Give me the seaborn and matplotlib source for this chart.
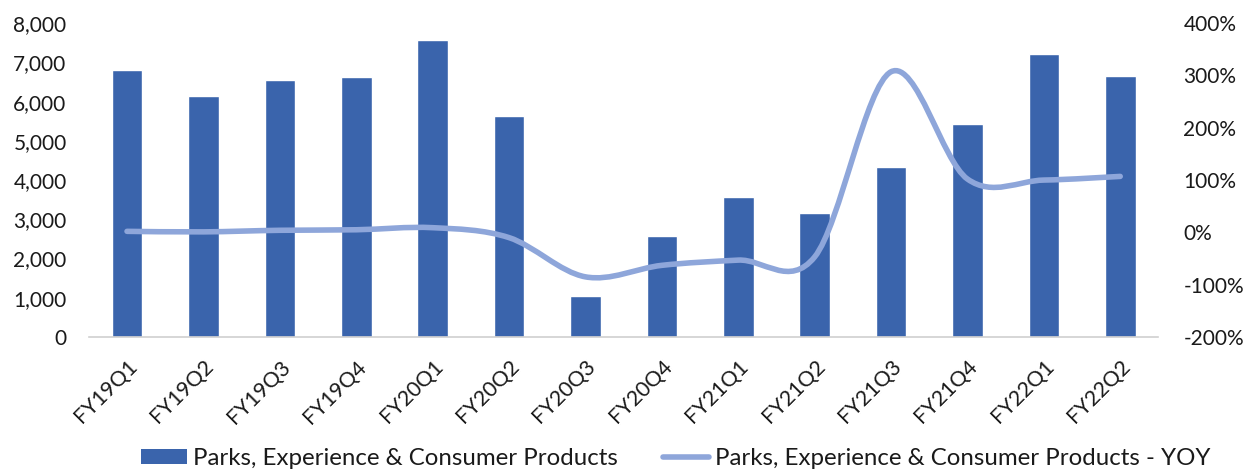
import numpy as np
import matplotlib
matplotlib.use("Agg")
import matplotlib.pyplot as plt
import seaborn as sns
import pandas as pd
from matplotlib.path import Path
from matplotlib.patches import PathPatch, Patch
from matplotlib.lines import Line2D
from matplotlib.ticker import FuncFormatter, MultipleLocator

# Quarterly segment revenue (USD mn) and year-over-year growth (%)
quarters = ["FY19Q1", "FY19Q2", "FY19Q3", "FY19Q4", "FY20Q1", "FY20Q2", "FY20Q3",
            "FY20Q4", "FY21Q1", "FY21Q2", "FY21Q3", "FY21Q4", "FY22Q1", "FY22Q2"]
revenue = [6800, 6150, 6560, 6630, 7560, 5640, 1045, 2570, 3560, 3170, 4330, 5420, 7220, 6640]
yoy_pct = [2, 1, 4, 5, 9, -10, -85, -63, -53, -47, 307, 102, 100, 107]

bar_label = "Parks, Experience & Consumer Products"
line_label = "Parks, Experience & Consumer Products - YOY"

bar_color = "#3A64AC"
line_color = "#8EA6DA"
text_color = "#1a1a1a"

sns.set_theme(style="white")
plt.rcParams["font.family"] = ["Lato", "DejaVu Sans"]

fig = plt.figure(figsize=(12.51, 4.72), dpi=100)
ax = fig.add_axes([0.071, 0.286, 0.855, 0.665])

df = pd.DataFrame({"quarter": quarters, "revenue": revenue})
sns.barplot(data=df, x="quarter", y="revenue", color=bar_color, saturation=1,
            width=0.4, ax=ax)

ax.set_xlim(-0.5, len(quarters) - 0.5)
ax.set_ylim(0, 8000)
ax.yaxis.set_major_locator(MultipleLocator(1000))
ax.yaxis.set_major_formatter(FuncFormatter(lambda v, p: f"{int(v):,}"))
ax.set_xlabel("")
ax.set_ylabel("")
for s in ["top", "right", "left"]:
    ax.spines[s].set_visible(False)
ax.spines["bottom"].set_color("#d0d0d0")
ax.spines["bottom"].set_linewidth(1.2)
ax.tick_params(axis="y", length=0, pad=16, labelsize=15, labelcolor=text_color)
ax.tick_params(axis="x", length=0, pad=14, labelsize=15.5, labelcolor=text_color)
for lbl in ax.get_xticklabels():
    lbl.set_rotation(45)
    lbl.set_ha("right")
    lbl.set_rotation_mode("anchor")

# Secondary axis: smoothed growth line (cubic Bezier through each quarter)
ax2 = ax.twinx()
ax2.set_ylim(-200, 400)
ax2.set_xlim(ax.get_xlim())
ax2.yaxis.set_major_locator(MultipleLocator(100))
ax2.yaxis.set_major_formatter(FuncFormatter(lambda v, p: f"{int(v)}%"))
for s in ["top", "right", "left", "bottom"]:
    ax2.spines[s].set_visible(False)
ax2.tick_params(axis="y", length=0, pad=18, labelsize=15, labelcolor=text_color)

xs = np.arange(len(quarters), dtype=float)
ys = np.array(yoy_pct, dtype=float)
pts = np.column_stack([xs, ys])
n = len(pts)
verts = [tuple(pts[0])]
codes = [Path.MOVETO]
for i in range(n - 1):
    p0 = pts[i - 1] if i > 0 else pts[i]
    p1 = pts[i]
    p2 = pts[i + 1]
    p3 = pts[i + 2] if i + 2 < n else pts[i + 1]
    c1 = p1 + (p2 - p0) / 6.0
    c2 = p2 - (p3 - p1) / 6.0
    verts += [tuple(c1), tuple(c2), tuple(p2)]
    codes += [Path.CURVE4] * 3
ax2.add_patch(PathPatch(Path(verts, codes), facecolor="none", edgecolor=line_color,
                        lw=4.0, capstyle="round", joinstyle="round"))

handles = [Patch(facecolor=bar_color, edgecolor="none", label=bar_label),
           Line2D([0], [0], color=line_color, lw=4.0, label=line_label)]
fig.legend(handles=handles, loc="lower center", bbox_to_anchor=(0.54, -0.04), ncol=2,
           frameon=False, handlelength=1.9, handleheight=0.6, handletextpad=0.25,
           columnspacing=1.9,
           prop={"family": ["Lato", "DejaVu Sans"], "size": 17.3},
           labelcolor=text_color)

fig.savefig("out.png", dpi=100)
